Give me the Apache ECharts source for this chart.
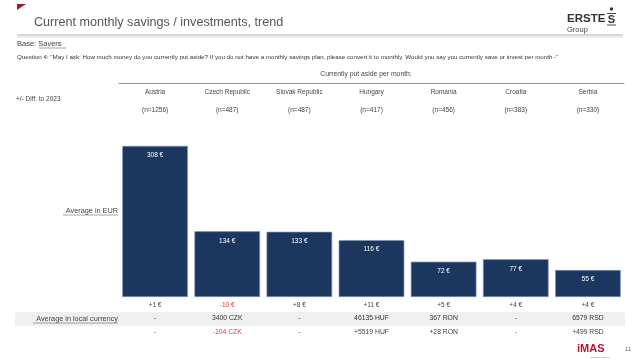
<!DOCTYPE html>
<html>
<head>
<meta charset="utf-8">
<script src="https://cdn.jsdelivr.net/npm/echarts@6/dist/echarts.min.js"></script>
<style>
html,body{margin:0;padding:0;background:#fff;}
#chart{width:639px;height:361px;}
</style>
</head>
<body>
<div id="chart"></div>
<script>
const countries = ['Austria','Czech Republic','Slovak Republic','Hungary','Romania','Croatia','Serbia'];
const sampleSizes = ['(n=1256)','(n=487)','(n=487)','(n=417)','(n=456)','(n=383)','(n=330)'];
const avgEur = [308,134,133,116,72,77,55];
const diffEur = ['+1 €','-10 €','+8 €','+11 €','+5 €','+4 €','+4 €'];
const avgLocal = ['-','3400 CZK','-','46135 HUF','367 RON','-','6579 RSD'];
const diffLocal = ['-','-104 CZK','-','+5519 HUF','+28 RON','-','+499 RSD'];

const FONT = 'Liberation Sans, Arial, sans-serif';
const TXT = '#444';
const RED = '#e8383d';

function isNeg(s) { return s.length > 1 && s.charAt(0) === '-'; }

const chart = echarts.init(document.getElementById('chart'), null, {renderer: 'canvas'});

const option = {
  backgroundColor: '#ffffff',
  animation: false,
  grid: {left: 119, right: 15, top: 140, bottom: 64},
  yAxis: {type: 'value', min: 0, max: 320, show: false},
  xAxis: [
    {
      type: 'category', data: countries, position: 'bottom',
      axisLine: {show: false}, axisTick: {show: false},
      axisLabel: {
        interval: 0, margin: 5, fontFamily: FONT, fontSize: 6.5,
        formatter: (v, i) => diffEur[i],
        color: (v) => isNeg(diffEur[countries.indexOf(v)]) ? RED : TXT
      }
    },
    {
      type: 'category', data: countries, position: 'bottom', offset: 13,
      axisLine: {show: false}, axisTick: {show: false},
      axisLabel: {
        interval: 0, margin: 5, fontFamily: FONT, fontSize: 6.8,
        formatter: (v, i) => avgLocal[i], color: '#333'
      }
    },
    {
      type: 'category', data: countries, position: 'bottom', offset: 27,
      axisLine: {show: false}, axisTick: {show: false},
      axisLabel: {
        interval: 0, margin: 5, fontFamily: FONT, fontSize: 6.8,
        formatter: (v, i) => diffLocal[i],
        color: (v) => isNeg(diffLocal[countries.indexOf(v)]) ? RED : TXT
      }
    },
    {
      type: 'category', data: countries, position: 'top', offset: 44,
      axisLine: {show: false}, axisTick: {show: false},
      axisLabel: {interval: 0, margin: 0, fontFamily: FONT, fontSize: 6.5, color: TXT}
    },
    {
      type: 'category', data: countries, position: 'top', offset: 26,
      axisLine: {show: false}, axisTick: {show: false},
      axisLabel: {
        interval: 0, margin: 0, fontFamily: FONT, fontSize: 6.5, color: TXT,
        formatter: (v, i) => sampleSizes[i]
      }
    },
    {
      type: 'category', data: countries, position: 'top', offset: 57,
      axisLine: {show: true, lineStyle: {color: '#9a9a9a', width: 1}},
      axisTick: {show: false}, axisLabel: {show: false}
    }
  ],
  series: [{
    type: 'bar', xAxisIndex: 0, yAxisIndex: 0,
    data: avgEur,
    barCategoryGap: '9%',
    itemStyle: {color: '#1b3760', borderColor: '#8094b3', borderWidth: 0.7},
    label: {
      show: true, position: 'insideTop', distance: 6,
      formatter: '{c} €', color: '#ffffff', fontFamily: FONT, fontSize: 6.5
    }
  }],
  graphic: [
    {type: 'polygon', shape: {points: [[17,4],[26,4],[17,10]]}, style: {fill: '#a3182f'}},
    {type: 'text', x: 34, y: 23, style: {text: 'Current monthly savings / investments, trend', fill: '#555', font: '12.6px ' + FONT, verticalAlign: 'middle'}},
    {type: 'line', shape: {x1: 17, y1: 35, x2: 623, y2: 35}, style: {stroke: '#a8a8a8', lineWidth: 1}},
    {type: 'line', shape: {x1: 17, y1: 36.5, x2: 623, y2: 36.5}, style: {stroke: '#e8e8e8', lineWidth: 2}},
    {type: 'text', x: 567, y: 19, style: {text: 'ERSTE', fill: '#333', font: 'bold 11.5px ' + FONT, verticalAlign: 'middle'}},
    {type: 'text', x: 567, y: 30, style: {text: 'Group', fill: '#444', font: '7.5px ' + FONT, verticalAlign: 'middle'}},
    {type: 'circle', shape: {cx: 611.5, cy: 9, r: 1.7}, style: {fill: '#333'}},
    {type: 'text', x: 611.5, y: 19.5, style: {text: 'S', fill: '#333', font: 'bold 11px ' + FONT, align: 'center', verticalAlign: 'middle'}},
    {type: 'line', shape: {x1: 607, y1: 13.5, x2: 616, y2: 13.5}, style: {stroke: '#333', lineWidth: 0.9}},
    {type: 'line', shape: {x1: 607, y1: 25, x2: 616, y2: 25}, style: {stroke: '#333', lineWidth: 0.9}},
    {type: 'text', x: 17, y: 44, style: {text: 'Base: Savers', fill: '#444', font: '7.5px ' + FONT, verticalAlign: 'middle'}},
    {type: 'line', shape: {x1: 39, y1: 48, x2: 66, y2: 48}, style: {stroke: '#666', lineWidth: 0.6}},
    {type: 'text', x: 17, y: 57, style: {text: 'Question 4: "May I ask: How much money do you currently put aside? If you do not have a monthly savings plan, please convert it to monthly. Would you say you currently save or invest per month -"', fill: '#333', font: '6.2px ' + FONT, verticalAlign: 'middle'}},
    {type: 'text', x: 366, y: 74, style: {text: 'Currently put aside per month:', fill: '#444', font: '6.8px ' + FONT, align: 'center', verticalAlign: 'middle'}},
    {type: 'text', x: 16, y: 99, style: {text: '+/- Diff. to 2023', fill: '#444', font: '6.5px ' + FONT, verticalAlign: 'middle'}},
    {type: 'text', x: 118, y: 211, style: {text: 'Average in EUR', fill: '#444', font: '7.3px ' + FONT, align: 'right', verticalAlign: 'middle'}},
    {type: 'line', shape: {x1: 63, y1: 215, x2: 118, y2: 215}, style: {stroke: '#666', lineWidth: 0.6}},
    {type: 'rect', z: -10, shape: {x: 15, y: 312, width: 610, height: 14}, style: {fill: '#efefef'}},
    {type: 'text', x: 118, y: 319, style: {text: 'Average in local currency', fill: '#444', font: '7.3px ' + FONT, align: 'right', verticalAlign: 'middle'}},
    {type: 'line', shape: {x1: 33, y1: 323, x2: 118, y2: 323}, style: {stroke: '#666', lineWidth: 0.6}},
    {type: 'text', x: 577, y: 349, style: {text: 'iMAS', fill: '#b8132f', font: 'bold 11px ' + FONT, verticalAlign: 'middle'}},
    {type: 'text', x: 590, y: 357, style: {text: 'INTERNATIONAL', fill: '#777', font: '2.5px ' + FONT, verticalAlign: 'middle'}},
    {type: 'text', x: 625, y: 349, style: {text: '11', fill: '#666', font: '6px ' + FONT, verticalAlign: 'middle'}}
  ]
};
chart.setOption(option);
</script>
</body>
</html>
